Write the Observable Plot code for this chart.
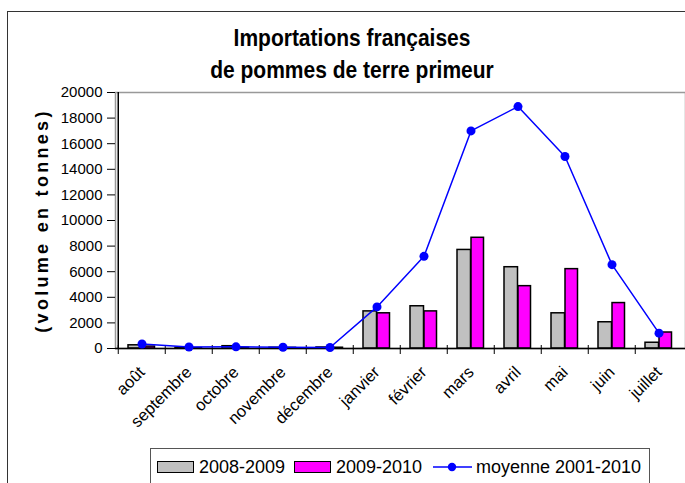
<!DOCTYPE html>
<html><head><meta charset="utf-8">
<script src="https://cdn.jsdelivr.net/npm/d3@7"></script>
<script src="https://cdn.jsdelivr.net/npm/@observablehq/plot@0.6"></script>
<style>
body{margin:0;width:685px;height:483px;overflow:hidden;background:#fff;font-family:"Liberation Sans",Arial,sans-serif;position:relative}
#frame{position:absolute;left:7px;top:11px;width:720px;height:520px;border:1.5px solid #333;box-sizing:border-box}
#title{position:absolute;left:0;top:22px;width:704px;text-align:center;font-family:"Liberation Sans",Arial,sans-serif;font-weight:bold;font-size:24px;line-height:32px;color:#000;transform:scaleX(0.875);transform-origin:352px 0}
#chart{position:absolute;left:0;top:82px}
#legend{position:absolute;left:150px;top:448px;width:500px;height:60px;border:1.5px solid #555;box-sizing:border-box;background:#fff}
.item{position:absolute;top:0;height:36px;display:flex;align-items:center;font-size:18px;color:#000;white-space:nowrap}
.sw{width:37px;height:12px;border:1.5px solid #000;box-sizing:border-box;margin-right:5px}
</style>
</head><body>
<div id="frame"></div>
<div id="title">Importations françaises<br>de pommes de terre primeur</div>
<div id="chart"></div>
<div id="legend"></div>
<script>
const months = ["août","septembre","octobre","novembre","décembre","janvier","février","mars","avril","mai","juin","juillet"];
const s0809 = [250, 50, 180, 60, 80, 2900, 3300, 7700, 6350, 2750, 2050, 450];
const s0910 = [150, 30, 60, 50, 60, 2750, 2900, 8650, 4870, 6200, 3550, 1250];
const moyenne = [350, 120, 130, 100, 80, 3250, 7200, 17000, 18900, 15000, 6550, 1200];
const yTicks = [0, 2000, 4000, 6000, 8000, 10000, 12000, 14000, 16000, 18000, 20000];
const seriesNames = ["2008-2009", "2009-2010", "moyenne 2001-2010"];
const yLabel = "(volume en tonnes)";

const table = months.map((m, i) => ({month: m, a: s0809[i], b: s0910[i], c: moyenne[i]}));

const W = 685, ML = 115, MR = 0;
const bw = (W - ML - MR) / months.length;

const chart = Plot.plot({
  width: W, height: 365,
  marginLeft: ML, marginRight: MR, marginTop: 10, marginBottom: 99,
  style: {fontFamily: "Liberation Sans, Arial, sans-serif", fontSize: "14px", color: "#000", background: "transparent", overflow: "visible"},
  x: {type: "band", domain: months, padding: 0, label: null},
  y: {domain: [0, 20000], label: null},
  marks: [
    Plot.frame({stroke: "#999", strokeWidth: 1.5}),
    Plot.barY(table, {x: "month", y: "a", fill: "#C0C0C0", stroke: "#000", strokeWidth: 1.5, insetLeft: 10, insetRight: bw - 24}),
    Plot.barY(table, {x: "month", y: "b", fill: "#FF00FF", stroke: "#000", strokeWidth: 1.5, insetLeft: 24, insetRight: bw - 37}),
    Plot.ruleY([0], {stroke: "#000", strokeWidth: 1.5}),
    Plot.ruleX([months[0]], {x: d => d, dx: -bw / 2, y1: 0, y2: 20000, stroke: "#000", strokeWidth: 1.5}),
    Plot.axisY({ticks: yTicks, tickSize: 8, tickPadding: 5, fontSize: 15, label: null, tickFormat: d => String(d), stroke: "#000"}),
    Plot.axisX({ticks: months, tickSize: 9, dy: -3, dx: -bw / 2, tickFormat: () => "", label: null, stroke: "#000"}),
    Plot.axisX({tickSize: 0, tickPadding: 21, dx: 0, tickRotate: -45, fontSize: 16.5, label: null}),
    Plot.line(table, {x: "month", y: "c", stroke: "#0000FF", strokeWidth: 1.5}),
    Plot.dot(table, {x: "month", y: "c", fill: "#0000FF", r: 4.5}),
    Plot.text([yLabel], {frameAnchor: "left", textAnchor: "middle", dx: -73, rotate: -90, fontWeight: "bold", fontSize: 18, fill: "#000"})
  ]
});
d3.select(chart).selectAll("text").filter(function() { return this.textContent === yLabel; }).style("letter-spacing", "3.3px");
document.getElementById("chart").appendChild(chart);

const lg = document.getElementById("legend");
const items = [
  {x: 6, html: `<div class="sw" style="background:#C0C0C0"></div>${seriesNames[0]}`},
  {x: 143, html: `<div class="sw" style="background:#FF00FF"></div>${seriesNames[1]}`},
  {x: 282, html: `<svg width="39" height="12" style="margin-right:4px"><line x1="0" y1="6" x2="39" y2="6" stroke="#0000FF" stroke-width="1.5"/><circle cx="19" cy="6" r="4.2" fill="#0000FF"/></svg>${seriesNames[2]}`}
];
for (const it of items) {
  const d = document.createElement("div");
  d.className = "item";
  d.style.left = it.x + "px";
  d.innerHTML = it.html;
  lg.appendChild(d);
}
</script>
</body></html>
